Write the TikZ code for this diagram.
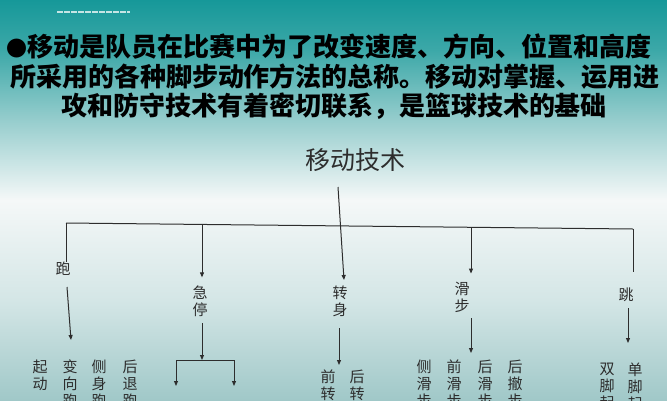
\documentclass[tikz,border=0pt]{standalone}
\usepackage{fontspec}
\newfontfamily\cjk{Noto Sans CJK SC}
\usetikzlibrary{arrows.meta,calc}
\definecolor{c0}{RGB}{22,152,153}
\definecolor{c1}{RGB}{60,168,168}
\definecolor{c2}{RGB}{150,205,205}
\definecolor{c3}{RGB}{245,248,248}
\definecolor{c4}{RGB}{212,230,230}
\definecolor{c5}{RGB}{160,200,200}
\definecolor{ink}{RGB}{45,45,45}
\pgfdeclareverticalshading{bgshade}{100bp}{color(0bp)=(c5); color(25bp)=(c5); color(37.5bp)=(c4); color(50bp)=(c3); color(60bp)=(c2); color(68.75bp)=(c1); color(75bp)=(c0); color(100bp)=(c0)}
\tikzset{
  titleline/.style={font=\cjk\bfseries\fontsize{26}{29}\selectfont, inner sep=0, text=black},
  rootlab/.style={font=\cjk\fontsize{25}{28}\selectfont, inner sep=0, text=ink},
  lab/.style={font=\cjk\fontsize{15}{17}\selectfont, inner sep=0, align=center, text=ink},
  sublab/.style={lab, anchor=north},
  conn/.style={draw=ink, line width=1pt},
  arr/.style={conn, -{Triangle[length=5pt,width=4pt]}}
}
\begin{document}
\begin{tikzpicture}[x=1pt,y=-1pt]
\useasboundingbox (0,0) rectangle (667,400);
\clip (0,0) rectangle (667,400);
\shade[shading=bgshade] (0,0) rectangle (667,400);
\draw[white!75!c0, line width=1.2pt, dash pattern=on 6pt off 1pt] (57,12) -- (130,12);

% title
\node[titleline, anchor=west] (t1) at (6,47) {{\fontsize{21}{29}\selectfont●}移动是队员在比赛中为了改变速度、方向、位置和高度};
\node[titleline] (t2) at (335,77) {所采用的各种脚步动作方法的总称。移动对掌握、运用进};
\node[titleline] (t3) at (334,106) {攻和防守技术有着密切联系，是篮球技术的基础};

% root
\node[rootlab] (root) at (355,160) {移动技术};

% bus line
\coordinate (L) at (66,223);
\coordinate (R) at (633,229);
\coordinate (b2) at (202,224.4);
\coordinate (b4) at (471,227.3);
\draw[conn] (L) -- (R);

% level 1 labels
\node[lab] (pao) at (63,269) {跑};
\node[lab] (jt) at (200,301) {急\\停};
\node[lab] (zs) at (340,301) {转\\身};
\node[lab] (hb) at (462,297) {滑\\步};
\node[lab] (tiao) at (626,295) {跳};

% connectors to level 1
\draw[conn] (L) -- (L |- pao.north);
\draw[arr, shorten >=8pt] (b2) -- (b2 |- jt.north);
\coordinate (r1) at (338,187);
\coordinate (r2) at (344,280);
\draw[arr] (r1) -- (r2);
\draw[arr, shorten >=8pt] (b4) -- (b4 |- hb.north);
\draw[conn] (R) -- (633,272);

% level 2 labels
\node[sublab] (p1) at (40,360) {起\\动};
\node[sublab] (p2) at (70,360) {变\\向\\跑};
\node[sublab] (p3) at (99,360) {侧\\身\\跑};
\node[sublab] (p4) at (130,360) {后\\退\\跑};

\node[sublab] (z1) at (328,370) {前\\转\\身};
\node[sublab] (z2) at (357,370) {后\\转\\身};

\node[sublab] (h1) at (424,360) {侧\\滑\\步};
\node[sublab] (h2) at (454,360) {前\\滑\\步};
\node[sublab] (h3) at (485,360) {后\\滑\\步};
\node[sublab] (h4) at (515,360) {后\\撤\\步};

\node[sublab] (j1) at (607,363) {双\\脚\\起};
\node[sublab] (j2) at (635,363) {单\\脚\\起};

% connectors to level 2
\coordinate (pa) at (71,340);
\draw[arr] (67,287) -- (pa);

\coordinate (jb) at (202,360);
\coordinate (jl) at (176,360);
\coordinate (jr) at (234,360);
\draw[arr] (202,323) -- (jb);
\draw[conn] (jl) -- (jr);
\draw[arr] (jl) -- (176,386);
\draw[arr] (jr) -- (234,386);

\coordinate (zb) at (339,365);
\draw[arr] (339,328) -- (zb);

\coordinate (hbb) at (471,353);
\draw[arr] (471,318) -- (hbb);

\coordinate (tb) at (628,343);
\draw[arr] (628,308) -- (tb);
\end{tikzpicture}
\end{document}
